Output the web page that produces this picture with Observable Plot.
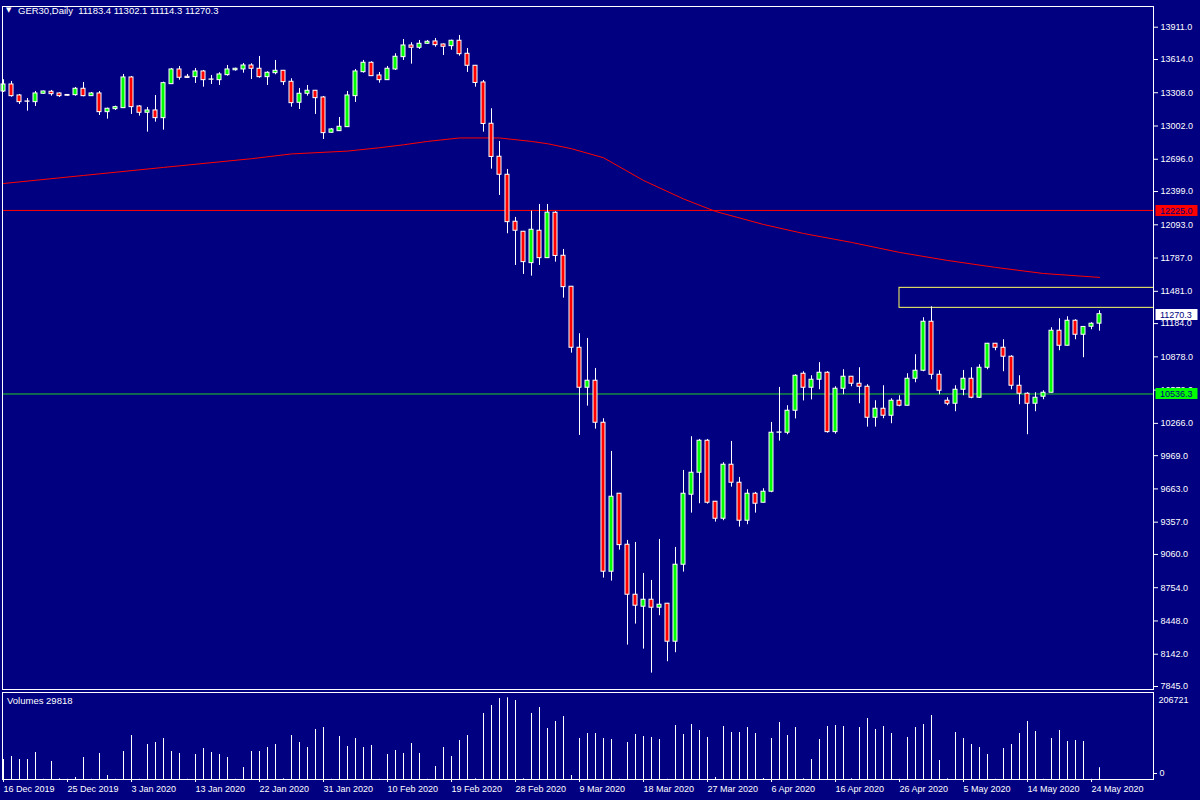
<!DOCTYPE html>
<html><head><meta charset="utf-8">
<script src="https://cdn.jsdelivr.net/npm/d3@7"></script>
<script src="https://cdn.jsdelivr.net/npm/@observablehq/plot@0.6"></script>
<style>
body{margin:0;background:#000080;}
#wrap{position:relative;width:1200px;height:800px;background:#000080;overflow:hidden;font-family:"Liberation Sans",Arial,sans-serif;}
#main{position:absolute;left:0;top:0;}
#vol{position:absolute;left:0;top:692px;}
.lbl{position:absolute;color:#fff;font-size:9.5px;white-space:pre;line-height:11px;}
</style></head><body>
<div id="wrap"><div id="main"></div><div id="vol"></div>
<div class="lbl" style="left:6px;top:5px;font-size:7px;font-family:'DejaVu Sans'">▼</div>
<div class="lbl" id="title" style="left:18px;top:5px"></div>
<div class="lbl" id="vlabel" style="left:7px;top:695px"></div>
</div>
<script>
const symbol = "GER30,Daily";
const opens = [13319.8,13384.2,13283,13227.8,13221.4,13298.6,13317,13301.4,13287.6,13285.8,13344.6,13276.6,13301.4,13129.4,13157,13166.2,13448.6,13181.8,13123.8,13145,13074.2,13387,13522.2,13455,13451.4,13503.8,13430.2,13423.8,13469.8,13515,13522.2,13559,13528.6,13451.4,13488.2,13510.2,13409,13215.8,13298.6,13326.2,13264.6,12939.8,12954.6,12991.4,13276.6,13497.4,13583.8,13467,13423.8,13522.2,13635.4,13743,13721.8,13758.6,13779.8,13752.2,13736.6,13786.2,13666.6,13556.2,13402.6,13022.6,12719,12553.4,12121,12029,11740.2,12038.2,11786.2,12203.8,11808.2,11523,10961.8,10593.8,10658.2,10271.8,8901,9618.6,9149.4,8689.4,8579,8643.4,8569.8,8606.6,8257,8965.4,9609.4,9811.8,10106.2,9545,9388.6,9885.4,9719.8,9370.2,9618.6,9535.8,9637,10179.8,10179.8,10382.2,10722.6,10593.8,10667.4,10731.8,10185.4,10584.6,10695,10630.6,10603,10317.8,10400.6,10336.2,10474.2,10428.2,10676.6,10750.2,11201,10713.4,10474.2,10446.6,10575.4,10676.6,10501.8,10777.8,10998.6,10961.8,10879,10612.2,10538.6,10446.6,10511,10547.8,11118.2,10980.2,11210.2,11081.4,11155,11183.4];
const highs = [13427.4,13411.8,13292.2,13255.4,13319.8,13322.6,13329,13306,13289.4,13356.6,13402.6,13310.6,13319.8,13166.2,13184.6,13476.2,13457.8,13188.2,13172.6,13283,13405.4,13531.4,13549.8,13476.2,13531.4,13513,13467,13491.8,13559,13534.2,13577.4,13574.6,13641.8,13501,13605,13513,13436.6,13347.4,13375,13329,13273.8,12979.4,13080.6,13319.8,13522.2,13605,13593,13494.6,13549.8,13666.6,13798.2,13767.8,13789,13789,13807.4,13757,13791.8,13835,13715.4,13559,13421,13160.6,12859.8,12602.2,12160.6,12031.8,12218.6,12280.2,12280.2,12213,11866.2,11525.8,11090.6,11047.4,10771.4,10308.6,10007.8,9621.4,9189,9170.6,8885.4,8821,9198.2,8609.4,9124.6,9833,10143,10118.2,10118.2,9547.8,9903.8,10099.8,9768.6,9655.4,9630.6,9664.6,10274.6,10596.6,10428.2,10713.4,10741,10704.2,10824.8,10741,10603,10759.4,10697.8,10777.8,10621.4,10474.2,10612.2,10492.6,10520.2,10722.6,10897.4,11237.8,11339,10750.2,10501.8,10612.2,10753,10777.8,10805.4,11001.4,11001.4,11035.4,10888.2,10704.2,10547.8,10547.8,10566.2,11145.8,11228.6,11247,11219.4,11155,11191.8,11302.1];
const lows = [13310.6,13267.4,13200.2,13138.6,13181.8,13294.9,13276.6,13264.6,13276.6,13276.6,13271,13273.8,13099,13065,13145,13163.4,13108.2,13092.6,12945.4,13037.4,12963.8,13384.2,13423.8,13439.4,13393.4,13359.4,13384.2,13375,13460.6,13506.6,13488.2,13430.2,13442.2,13375,13473.4,13375,13175.4,13154.2,13276.6,13108.2,12878.2,12936.2,12951.8,12988.6,13218.6,13488.2,13457.8,13396.2,13421,13513,13605,13571,13706.2,13752.2,13727.4,13651,13699.8,13644.6,13494.6,13359.4,12945.4,12605,12363,12010.6,11719,11636.2,11620.6,11719,11783.4,11749.4,11418.2,10912.2,10155,10424.6,10213,8842.2,8814.6,9099.8,8225.8,8419,8189,7968.2,8496.2,8073,8155.8,8897.4,9440.2,9526.6,9523,9357.4,9370.2,9679.4,9311.4,9333.4,9440.2,9534,9627.8,10102.6,10161.4,10306.8,10472.4,10481.6,10575.4,10176.2,10167,10529.4,10603,10446.6,10231.4,10231.4,10308.6,10262.6,10419,10426.4,10639.8,10741,10667.4,10529.4,10428.2,10373,10520.2,10492.6,10495.4,10759.4,10934.2,10741,10575.4,10437.4,10161.4,10373,10483.4,10546,10934.2,10978.4,11035.4,10869.8,11127.4,11114.3];
const closes = [13384.2,13276.6,13221.4,13225,13301.4,13319.8,13294.9,13276.6,13280.2,13344.6,13276.6,13301.4,13129.4,13160.6,13175.4,13448.6,13175.4,13123.8,13145,13074.2,13396.2,13522.2,13445.8,13444,13503.8,13423.8,13427.4,13476.2,13522.2,13528.6,13559,13528.6,13451.4,13491.8,13510.2,13405.4,13212.2,13298.6,13326.2,13258.2,12936.2,12970.2,12995,13283,13503.8,13583.8,13460.6,13423.8,13528.6,13639,13743,13721.8,13758.6,13777,13745.8,13731,13786.2,13663,13556.2,13398,13020.8,12717.2,12553.4,12117.4,12038.2,11749.4,12047.4,11786.2,12204.8,11806.4,11519.4,10961.8,10593.8,10658.2,10271.8,8901,9591,9145.8,8689.4,8588.2,8643.4,8569.8,8597.4,8257,8965.4,9618.6,9811.8,10106.2,9535.8,9388.6,9885.4,9719.8,9370.2,9618.6,9526.6,9637,10179.8,10182.6,10382.2,10704.2,10593.8,10667.4,10731.8,10185.4,10584.6,10695,10630.6,10603,10317.8,10400.6,10336.2,10474.2,10428.2,10676.6,10750.2,11201,10713.4,10566.2,10446.6,10575.4,10676.6,10501.8,10777.8,10998.6,10961.8,10879,10612.2,10538.6,10446.6,10501.8,10547.8,11118.2,10980.2,11210.2,11081.4,11153.2,11182.6,11270.3];
const volumes = [50600,58190,50600,50600,68310,500,45540,1690,500,5060,55660,500,65780,10120,500,70840,111320,500,88550,93610,103730,70840,65780,500,63250,78430,68310,63250,55660,500,30360,70840,70840,80960,88550,1690,111320,93610,80960,126500,131560,500,108790,83490,103730,80960,86020,500,63250,73370,65780,91080,65780,500,32890,80960,58190,98670,111320,1690,166980,187210,204920,206721,199860,1690,166980,182150,129020,146730,159380,10120,103730,116370,116370,103730,101190,500,93610,113850,108790,106260,101190,500,136620,113850,139140,123970,106260,5060,134090,118910,118910,131560,116370,2530,103730,144210,111320,131560,1690,50600,101190,134090,136620,134090,1690,131560,154320,126500,134090,116370,500,106260,131560,139140,161910,48070,1690,118910,103730,88550,80960,63250,500,78430,88550,116370,146730,121440,500,103730,123970,96140,98670,96140,500,29818];
const maIndex = [0,10,20,31,36,43,47,50,53,57,62,66,68,71,75,80,85,89,95,100,106,112,118,124,130,137];
const maValues = [12473,12547,12621,12701,12745,12771,12802,12829,12860,12892,12892,12860,12839,12793,12710,12501,12331,12216,12096,12013,11931,11839,11765,11701,11645,11609];
const yTicks = [13911,13614,13308,13002,12696,12399,12093,11787,11481,11184,10878,10572,10266,9969,9663,9357,9060,8754,8448,8142,7845];
const xTickIndex = [0,8,16,24,32,40,48,56,64,72,80,88,96,104,112,120,128,136];
const xTickLabels = ["16 Dec 2019","25 Dec 2019","3 Jan 2020","13 Jan 2020","22 Jan 2020","31 Jan 2020","10 Feb 2020","19 Feb 2020","28 Feb 2020","9 Mar 2020","18 Mar 2020","27 Mar 2020","6 Apr 2020","16 Apr 2020","26 Apr 2020","5 May 2020","14 May 2020","24 May 2020"];
const levelRed = 12225.0;
const levelGreen = 10536.3;
const zoneStart = 112, zoneTop = 11513, zoneBottom = 11329;
const volMaxLabel = 206721;

const BG = "#000080", FONT = "Liberation Sans, Arial, sans-serif";
const data = opens.map((o, i) => ({i, open: o, high: highs[i], low: lows[i], close: closes[i], vol: volumes[i]}));
const last = data[data.length - 1];
const ma = maIndex.map((i, k) => ({i, v: maValues[k]}));
const xDomain = [-0.125, 143.75];

document.getElementById("title").textContent = symbol + "  " +
  [last.open, last.high, last.low, last.close].map(v => v.toFixed(1)).join(" ");
document.getElementById("vlabel").textContent = "Volumes " + last.vol;

const main = Plot.plot({
  width: 1200, height: 692, marginLeft: 2, marginRight: 47, marginTop: 6, marginBottom: 3,
  style: {background: BG, color: "white", fontFamily: FONT, fontSize: "9px", overflow: "visible"},
  x: {domain: xDomain, axis: null},
  y: {domain: [7817.4, 14101.5], axis: null},
  marks: [
    Plot.ruleY([levelRed], {stroke: "#ff0000"}),
    Plot.ruleY([levelGreen], {stroke: "#22d022"}),
    Plot.line(ma, {x: "i", y: "v", stroke: "#ff0000", strokeWidth: 1}),
    Plot.rect([{x1: zoneStart, x2: 200, y1: zoneBottom, y2: zoneTop}], {x1: "x1", x2: "x2", y1: "y1", y2: "y2", stroke: "#ffff60", fill: "none", clip: true}),
    Plot.ruleX(data, {x: "i", y1: "low", y2: "high", stroke: "white"}),
    Plot.rect(data.filter(d => d.close >= d.open), {x1: d => d.i - 0.25, x2: d => d.i + 0.25, y1: "open", y2: "close", fill: "#00ff00", stroke: "white"}),
    Plot.rect(data.filter(d => d.close < d.open), {x1: d => d.i - 0.25, x2: d => d.i + 0.25, y1: "open", y2: "close", fill: "#ff0000", stroke: "white"}),
    Plot.frame({stroke: "white"}),
    Plot.axisY({ticks: yTicks, anchor: "right", label: null, tickSize: 4, tickPadding: 3, tickFormat: d => d.toFixed(1), stroke: "white", fill: "white", fontSize: 9})
  ]
});
document.getElementById("main").appendChild(main);

// price labels on the right axis (cover the tick label beneath, as the reference does)
const ys = main.scale("y");
const svg = d3.select(main);
[[levelRed, "#ff0000"], [last.close, "#ffffff"], [levelGreen, "#00ff00"]].forEach(([v, c]) => {
  const yy = Math.round(ys.apply(v));
  svg.append("rect").attr("x", 1155.5).attr("y", yy - 5).attr("width", 42).attr("height", 11).attr("fill", c);
  svg.append("text").attr("x", 1160).attr("y", yy + 3.5).attr("fill", BG).attr("text-anchor", "start")
    .attr("font-family", FONT).attr("font-size", 9).text(v.toFixed(1));
});

const vol = Plot.plot({
  width: 1200, height: 108, marginLeft: 2, marginRight: 47, marginTop: 0, marginBottom: 21,
  style: {background: BG, color: "white", fontFamily: FONT, fontSize: "9px", overflow: "visible"},
  x: {domain: xDomain, axis: null},
  y: {domain: [0, 220150], axis: null},
  marks: [
    Plot.ruleX(data, {x: "i", y1: 0, y2: "vol", stroke: "white"}),
    Plot.frame({stroke: "white"}),
    Plot.axisX({ticks: xTickIndex, label: null, tickFormat: d => xTickLabels[xTickIndex.indexOf(d)], tickSize: 3, tickPadding: 3, textAnchor: "start", stroke: "white", fill: "white", fontSize: 9}),
    Plot.axisY({ticks: [volMaxLabel], anchor: "right", label: null, tickFormat: d => String(d), tickSize: 0, tickPadding: 5, dy: 2, fill: "white", fontSize: 9}),
    Plot.axisY({ticks: [0], anchor: "right", label: null, tickFormat: d => String(d), tickSize: 3, tickPadding: 3, dy: -6, stroke: "white", fill: "white", fontSize: 9})
  ]
});
document.getElementById("vol").appendChild(vol);
</script>
</body></html>
